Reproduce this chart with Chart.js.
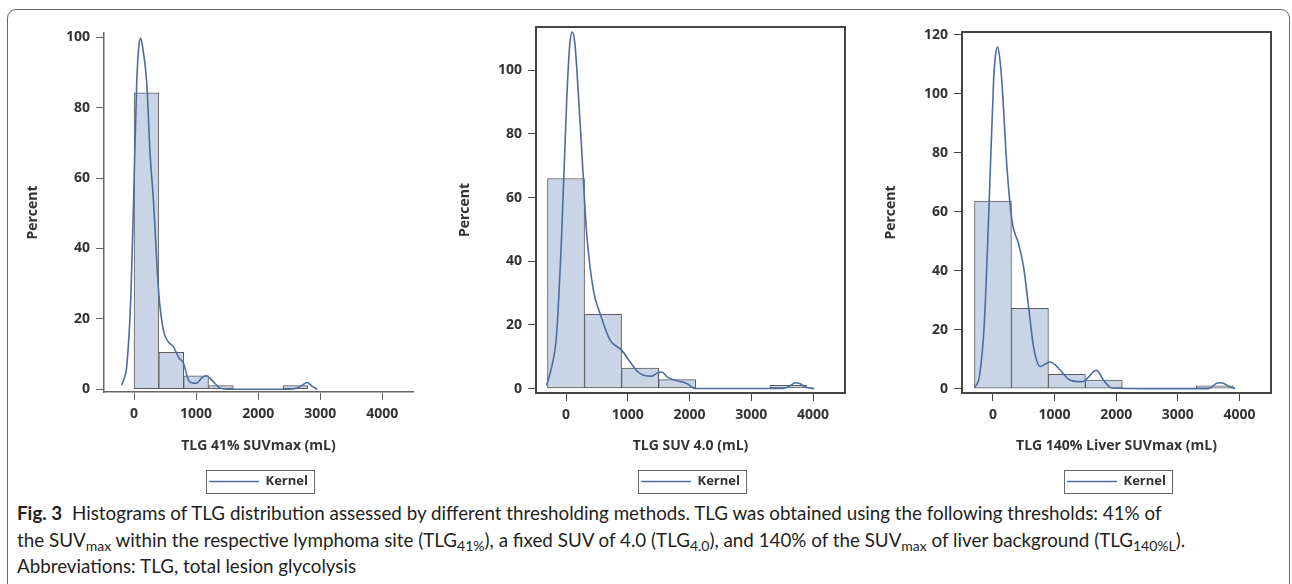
<!DOCTYPE html>
<html>
<head>
<meta charset="utf-8">
<script src="https://cdn.jsdelivr.net/npm/chart.js@4.4.1/dist/chart.umd.min.js"></script>
<style>
    body { margin: 0; background: #fff; width: 1292px; height: 584px; overflow: hidden; position: relative; }
    #frame { position: absolute; left: 7px; top: 9px; width: 1281px; height: 700px; border: 1.5px solid #666; border-radius: 9px; }
    canvas { position: absolute; top: 0; }
    #c1 { left: 25px; }
    #c2 { left: 457px; }
    #c3 { left: 883px; }
    #caption { position: absolute; left: 17px; top: 500px; font-family: Lato, sans-serif; font-size: 18.8px; line-height: 26.5px; color: #231f20; white-space: nowrap; }
    #caption b { margin-right: 5px; }
    sub { font-size: 14px; vertical-align: -4px; line-height: 0; }
</style>
</head>
<body>
<div id="frame"></div>
<canvas id="c1" width="398" height="498"></canvas>
<canvas id="c2" width="398" height="498"></canvas>
<canvas id="c3" width="398" height="498"></canvas>
<div id="caption"><b>Fig. 3</b> Histograms of TLG distribution assessed by different thresholding methods. TLG was obtained using the following thresholds: 41% of<br>the SUV<sub>max</sub> within the respective lymphoma site (TLG<sub>41%</sub>), a fixed SUV of 4.0 (TLG<sub>4.0</sub>), and 140% of the SUV<sub>max</sub> of liver background (TLG<sub>140%L</sub>).<br>Abbreviations: TLG, total lesion glycolysis</div>

<script>
    // histogram bins (midpoints, mL) and percent per bin
    var bins41 = [200, 600, 1000, 1400, 2600];
    var pct41 = [84.2, 10.5, 3.8, 1.0, 1.0];
    var bins40 = [0, 600, 1200, 1800, 3600];
    var pct40 = [66.0, 23.3, 6.4, 2.8, 1.0];
    var bins140 = [0, 600, 1200, 1800, 3600];
    var pct140 = [63.6, 27.2, 4.8, 2.9, 0.9];

    // kernel density curves
    var kx41 = [-200, -150, -118, -53, -11, 43, 80, 108, 140, 205, 258, 312, 398, 473, 550, 634, 720, 795, 876, 940, 1011, 1090, 1172, 1240, 1300, 1387, 1500, 2000, 2500, 2624, 2700, 2785, 2870, 2950];
    var ky41 = [1.2, 3.5, 6.4, 25.4, 51, 87, 98, 99.7, 97, 87, 67, 53.8, 27.3, 16.8, 13.5, 12.1, 9, 7.4, 2.6, 1.8, 1.7, 3.2, 3.8, 2.8, 1.7, 0.3, 0, 0, 0, 0.3, 1.0, 1.9, 0.8, 0];
    var kx40 = [-314, -232, -151, -70, 11, 60, 102, 140, 173, 254, 335, 443, 551, 713, 903, 1037, 1150, 1253, 1389, 1470, 1551, 1650, 1767, 1956, 2091, 2500, 3000, 3522, 3620, 3712, 3800, 3874, 4020];
    var ky40 = [1, 6.8, 17.3, 48.7, 90.6, 108, 112, 109, 101, 74.9, 48.7, 30.9, 23.6, 15.2, 12, 8.4, 5.5, 4.2, 3.9, 4.8, 5.2, 3.5, 2.6, 1.6, 0, 0, 0, 0, 0.8, 1.8, 1.4, 0.5, 0];
    var kx140 = [-299, -218, -141, -71, 10, 40, 75, 110, 146, 227, 308, 416, 497, 578, 659, 768, 850, 930, 1010, 1093, 1255, 1445, 1552, 1620, 1677, 1740, 1795, 1932, 2500, 3000, 3474, 3560, 3636, 3700, 3770, 3850, 3933];
    var ky140 = [0.2, 4.5, 22, 58, 104.5, 113, 115.8, 112, 103.4, 75, 57, 49, 41.2, 27.7, 14.1, 7.5, 8.3, 9, 8, 6.2, 2.8, 2.3, 3.9, 5.5, 6.2, 4.8, 2.8, 0.2, 0, 0, 0, 0.6, 1.9, 2.0, 1.5, 0.5, 0];

    // tick labels
    var xTicks = [0, 1000, 2000, 3000, 4000];
    var yTicks100 = [0, 20, 40, 60, 80, 100];
    var yTicks120 = [0, 20, 40, 60, 80, 100, 120];

    var xTitles = ['TLG 41% SUVmax (mL)', 'TLG SUV 4.0 (mL)', 'TLG 140% Liver SUVmax (mL)'];
    var yTitle = 'Percent';
    var kernelLabel = 'Kernel';

    var tickFont = { family: 'Open Sans', size: 14, weight: 'bold' };
    var titleFont = { family: 'Open Sans', size: 14, weight: 'bold' };

    var framePlugin = {
        id: 'frame',
        afterDraw: function (chart, args, opts) {
            if (!opts.show) return;
            var a = chart.chartArea, ctx = chart.ctx;
            ctx.save();
            ctx.strokeStyle = '#444';
            ctx.lineWidth = 2;
            ctx.strokeRect(a.left, a.top, a.right - a.left, a.bottom - a.top);
            ctx.restore();
        }
    };

    var legendBox = {
        id: 'legendBox',
        afterDraw: function (chart) {
            var hb = chart.legend.legendHitBoxes[0];
            if (!hb) return;
            var ctx = chart.ctx;
            var x = Math.round(hb.left - 3) + 0.5, y = Math.round(hb.top + hb.height / 2 - 12) + 0.5;
            ctx.save();
            ctx.strokeStyle = '#666';
            ctx.lineWidth = 1;
            ctx.strokeRect(x, y, Math.round(hb.width + 9), 23);
            ctx.restore();
        }
    };

    function toPoints(xs, ys) {
        var pts = [];
        for (var i = 0; i < xs.length; i++) {
            pts.push({ x: xs[i], y: ys[i] });
        }
        return pts;
    }

    function setTicks(values) {
        return function (s) {
            s.ticks = values.map(function (v) { return { value: v }; });
        };
    }

    function createHistogram(id, bins, pct, kx, ky, xTitle, xr, yr, yTicks, padTop, xH, framed) {
        var ctx = document.getElementById(id).getContext('2d');
        var axisColor = framed ? '#444' : '#666';
        return new Chart(ctx, {
            type: 'bar',
            data: {
                datasets: [{
                    type: 'bar',
                    label: yTitle,
                    data: toPoints(bins, pct),
                    backgroundColor: '#c9d5e7',
                    borderColor: '#5c5c5c',
                    borderWidth: 1,
                    borderSkipped: false,
                    barPercentage: 1,
                    categoryPercentage: 1,
                    order: 1
                }, {
                    type: 'line',
                    label: kernelLabel,
                    data: toPoints(kx, ky),
                    borderColor: '#4d6ca0',
                    borderWidth: 1.6,
                    pointRadius: 0,
                    fill: false,
                    cubicInterpolationMode: 'monotone',
                    order: 0
                }]
            },
            options: {
                responsive: false,
                animation: false,
                events: [],
                layout: { padding: { top: padTop, right: 10, left: 0, bottom: 0 } },
                scales: {
                    x: {
                        type: 'linear',
                        min: xr[0],
                        max: xr[1],
                        offset: false,
                        afterBuildTicks: setTicks(xTicks),
                        afterFit: function (s) { s.height = xH; },
                        ticks: { padding: 6, color: '#333', font: tickFont, maxRotation: 0, autoSkip: false,
                                 callback: function (v) { return String(v); } },
                        grid: { offset: false, drawOnChartArea: false, tickLength: 8, color: axisColor },
                        border: { color: axisColor, width: framed ? 2 : 1.5 },
                        title: { display: true, text: xTitle, color: '#333', font: titleFont, padding: 0 }
                    },
                    y: {
                        min: yr[0],
                        max: yr[1],
                        afterBuildTicks: setTicks(yTicks),
                        afterFit: function (s) { s.width = 79; },
                        ticks: { padding: 6, color: '#333', font: tickFont, autoSkip: false,
                                 callback: function (v) { return String(v); } },
                        grid: { offset: false, drawOnChartArea: false, tickLength: 8, color: axisColor },
                        border: { color: axisColor, width: framed ? 2 : 1.5 },
                        title: { display: true, text: yTitle, color: '#333', font: titleFont, padding: 0 }
                    }
                },
                plugins: {
                    frame: { show: framed },
                    tooltip: { enabled: false },
                    legend: {
                        position: 'bottom',
                        fullSize: false,
                        labels: {
                            usePointStyle: true,
                            pointStyle: 'line',
                            pointStyleWidth: 50,
                            padding: 21,
                            color: '#333',
                            font: { family: 'Open Sans', size: 13, weight: 'bold' },
                            filter: function (item) { return item.datasetIndex === 1; }
                        }
                    }
                }
            },
            plugins: [framePlugin, legendBox]
        });
    }

    createHistogram('c1', bins41, pct41, kx41, ky41, xTitles[0], [-484, 4495], [-0.8, 101.2], yTicks100, 33, 62, false);
    createHistogram('c2', bins40, pct40, kx40, ky40, xTitles[1], [-486, 4517], [-1.4, 113.6], yTicks100, 27, 61, true);
    createHistogram('c3', bins140, pct140, kx140, ky140, xTitles[2], [-503, 4513], [-1.5, 120.9], yTicks120, 32, 61, true);
</script>
</body>
</html>
